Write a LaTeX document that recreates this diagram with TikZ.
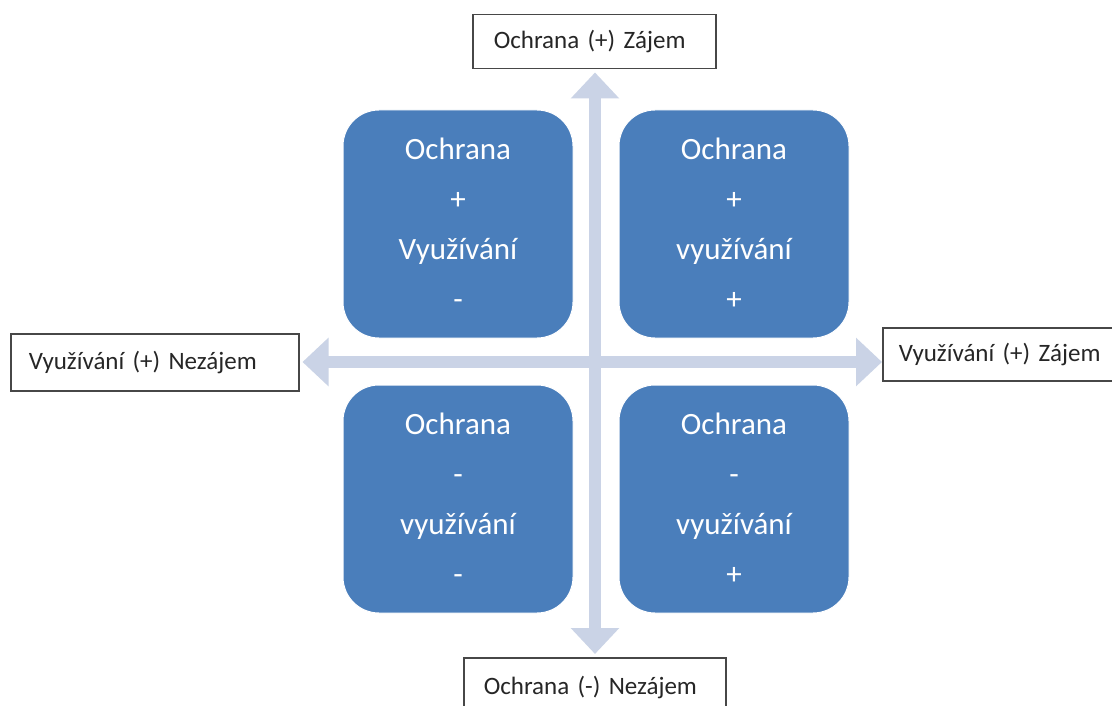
\documentclass[tikz,border=0pt]{standalone}
\usepackage{fontspec}
\setmainfont{Carlito}
\usetikzlibrary{arrows.meta}
\definecolor{boxblue}{HTML}{4A7EBB}
\definecolor{axisgray}{HTML}{CAD3E6}
\definecolor{framegray}{HTML}{474747}
\newcommand{\lblfont}{\fontsize{25}{30}\selectfont\fontdimen2\font=0.14em\fontdimen3\font=0pt\fontdimen4\font=0pt}
\begin{document}
\begin{tikzpicture}[x=1pt,y=-1pt,
  quad/.style={fill=boxblue, draw=white, line width=1pt, rounded corners=36pt,
    minimum width=230pt, minimum height=228pt, text=white, align=center,
    font=\fontsize{31}{50}\selectfont, inner sep=0pt},
  lbl/.style={draw=framegray, line width=1.5pt, fill=white, anchor=north west,
    align=left, font=\lblfont, inner ysep=0pt, text=black!85},
  axis/.style={draw=axisgray, line width=12pt,
    {Triangle[width=47pt,length=26pt]}-{Triangle[width=47pt,length=26pt]},
    shorten >=3pt, shorten <=3pt}
]
\useasboundingbox (0,0) rectangle (1112,706);
\clip (0,0) rectangle (1112,706);
\fill[white] (0,0) rectangle (1112,706);

% labels
\node[lbl, inner xsep=21pt, text width=201pt, minimum height=54pt] (top) at (472,14) {Ochrana (+) Zájem};
\node[lbl, inner xsep=18pt, text width=252pt, minimum height=57pt] (left) at (10,333) {Využívání (+) Nezájem};
\node[lbl, inner xsep=16pt, text width=208pt, minimum height=53pt] (right) at (882,327) {Využívání (+) Zájem};
\node[lbl, inner xsep=20pt, text width=222pt, minimum height=60pt] (bottom) at (463,657) {Ochrana (-) Nezájem};

% axes
\coordinate (c) at (595,362);
\draw[axis] (c |- bottom.north) -- (c |- top.south);
\draw[axis, shorten >=0pt] (left.east |- c) -- (right.west |- c);

% quadrants
\node[quad] (tl) at (458,224) {Ochrana\\+\\Využívání\\-};
\node[quad] (tr) at (734,224) {Ochrana\\+\\využívání\\+};
\node[quad] (bl) at (458,499) {Ochrana\\-\\využívání\\-};
\node[quad] (br) at (734,499) {Ochrana\\-\\využívání\\+};
\end{tikzpicture}
\end{document}
